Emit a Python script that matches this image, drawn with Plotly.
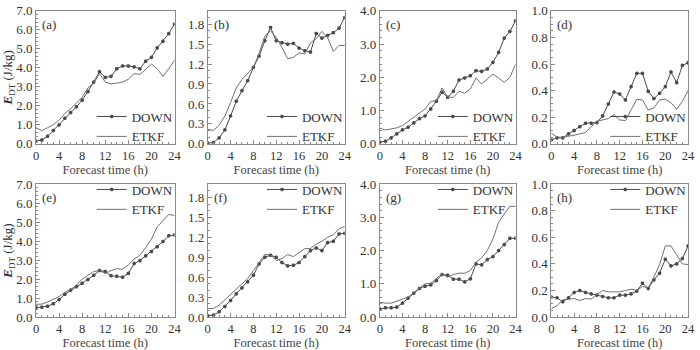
import plotly.graph_objects as go

hours = list(range(25))
panel_labels = ["(a)", "(b)", "(c)", "(d)", "(e)", "(f)", "(g)", "(h)"]
series_names = ["DOWN", "ETKF"]
x_ticks = [0, 4, 8, 12, 16, 20, 24]

down_a = [0.15, 0.2, 0.4, 0.7, 1.0, 1.35, 1.65, 1.95, 2.3, 2.75, 3.25, 3.8, 3.5, 3.55, 3.95, 4.1, 4.1, 4.05, 3.95, 4.35, 4.55, 5.05, 5.4, 5.8, 6.3]
etkf_a = [0.85, 0.7, 0.85, 1.0, 1.25, 1.6, 1.85, 2.15, 2.45, 2.95, 3.2, 3.7, 3.25, 3.15, 3.2, 3.25, 3.4, 3.7, 3.65, 3.9, 4.2, 3.95, 3.55, 3.95, 4.4]
down_b = [0.01, 0.02, 0.09, 0.21, 0.42, 0.64, 0.8, 0.95, 1.15, 1.32, 1.55, 1.75, 1.55, 1.52, 1.5, 1.51, 1.44, 1.4, 1.38, 1.66, 1.59, 1.63, 1.67, 1.74, 1.9]
etkf_b = [0.22, 0.2, 0.28, 0.42, 0.62, 0.84, 0.97, 1.06, 1.15, 1.36, 1.62, 1.7, 1.6, 1.45, 1.28, 1.3, 1.37, 1.35, 1.52, 1.58, 1.69, 1.6, 1.39, 1.48, 1.48]
down_c = [0.05, 0.08, 0.18, 0.3, 0.42, 0.5, 0.63, 0.76, 0.84, 1.05, 1.28, 1.55, 1.4, 1.58, 1.92, 1.98, 2.05, 2.2, 2.18, 2.25, 2.45, 2.75, 3.18, 3.38, 3.7]
etkf_c = [0.47, 0.42, 0.45, 0.48, 0.55, 0.68, 0.8, 0.92, 1.05, 1.28, 1.3, 1.68, 1.4, 1.4, 1.58, 1.52, 1.65, 1.98, 1.8, 1.95, 2.1, 1.98, 1.85, 2.0, 2.4]
down_d = [0.03, 0.045, 0.045, 0.075, 0.1, 0.13, 0.155, 0.155, 0.16, 0.21, 0.3, 0.39, 0.375, 0.33, 0.43, 0.53, 0.53, 0.395, 0.34, 0.38, 0.43, 0.54, 0.46, 0.59, 0.61]
etkf_d = [0.08, 0.05, 0.05, 0.055, 0.065, 0.075, 0.085, 0.13, 0.17, 0.18, 0.19, 0.22, 0.18, 0.175, 0.26, 0.335, 0.33, 0.255, 0.27, 0.33, 0.335, 0.31, 0.26, 0.32, 0.4]
down_e = [0.5, 0.52, 0.57, 0.7, 0.92, 1.2, 1.42, 1.6, 1.78, 1.98, 2.2, 2.45, 2.4, 2.18, 2.15, 2.1, 2.3, 2.82, 2.97, 3.22, 3.45, 3.7, 3.98, 4.28, 4.32]
etkf_e = [0.68, 0.68, 0.8, 0.95, 1.08, 1.3, 1.45, 1.68, 2.0, 2.2, 2.4, 2.45, 2.3, 2.45, 2.55, 2.52, 2.75, 3.05, 3.25, 3.65, 4.1, 4.75, 5.1, 5.4, 5.35]
down_f = [0.02, 0.03, 0.08, 0.16, 0.25, 0.35, 0.44, 0.53, 0.63, 0.8, 0.9, 0.93, 0.9, 0.82, 0.77, 0.78, 0.82, 0.91, 1.0, 1.04, 1.0, 1.12, 1.14, 1.25, 1.26]
etkf_f = [0.13, 0.13, 0.18, 0.26, 0.34, 0.42, 0.5, 0.58, 0.7, 0.83, 0.94, 0.94, 0.85, 0.88, 0.94, 0.91, 0.97, 1.03, 1.03, 1.1, 1.14, 1.2, 1.24, 1.33, 1.36]
down_g = [0.24, 0.28, 0.28, 0.3, 0.42, 0.57, 0.72, 0.86, 0.93, 0.97, 1.1, 1.28, 1.26, 1.14, 1.14, 1.06, 1.15, 1.6, 1.57, 1.73, 1.82, 2.0, 2.18, 2.37, 2.37]
etkf_g = [0.45, 0.42, 0.42, 0.48, 0.52, 0.6, 0.74, 0.87, 1.0, 1.02, 1.15, 1.3, 1.2, 1.28, 1.32, 1.32, 1.4, 1.65, 1.78, 2.0, 2.35, 2.85, 3.1, 3.33, 3.33]
down_h = [0.15, 0.145, 0.115, 0.145, 0.185, 0.2, 0.185, 0.175, 0.165, 0.155, 0.145, 0.145, 0.165, 0.165, 0.175, 0.195, 0.255, 0.215, 0.28, 0.33, 0.435, 0.385, 0.4, 0.44, 0.535]
etkf_h = [0.065, 0.085, 0.13, 0.135, 0.14, 0.125, 0.14, 0.135, 0.165, 0.2, 0.19, 0.19, 0.19, 0.2, 0.21, 0.2, 0.23, 0.22, 0.3, 0.395, 0.535, 0.535, 0.47, 0.4, 0.395]

downs = [down_a, down_b, down_c, down_d, down_e, down_f, down_g, down_h]
etkfs = [etkf_a, etkf_b, etkf_c, etkf_d, etkf_e, etkf_f, etkf_g, etkf_h]

# y-axis settings per column: (max, major step, minor step)
y_cfg = [(7.0, 1.0, 0.2), (2.0, 0.3, 0.1), (4.0, 1.0, 0.2), (1.0, 0.2, 0.05)]

W, H = 700, 350
col_px = [(33.5, 174.0), (207.7, 346.7), (382.3, 520.0), (556.3, 695.0)]
row_px = [(4.0, 143.0), (185.0, 324.0)]

FAM = '"Liberation Serif", "Times New Roman", "DejaVu Serif", serif'
def fnt(size, color="#333"):
    return dict(family=FAM, size=size, color=color)

frame = "#8a8a8a"
c_down = "#4a4a4a"
c_etkf = "#707070"

fig = go.Figure()
layout = dict(
    width=W, height=H, margin=dict(l=0, r=0, t=0, b=0),
    plot_bgcolor="white", paper_bgcolor="white",
    font=fnt(13),
    showlegend=True,
)
annotations = []

for i in range(8):
    r, c = divmod(i, 4)
    n = i + 1
    xs = "" if n == 1 else str(n)
    xa, ya = "x" + xs, "y" + xs
    lg = "legend" + xs
    x0, x1 = col_px[c]
    y0, y1 = row_px[r]
    ymax, ystep, yminor = y_cfg[c]

    fig.add_trace(go.Scatter(
        x=hours, y=downs[i], name=series_names[0], mode="lines+markers",
        line=dict(color=c_down, width=1),
        marker=dict(symbol="asterisk-open", size=3, color=c_down, line=dict(color=c_down, width=1.2)),
        xaxis=xa, yaxis=ya, legend=lg))
    fig.add_trace(go.Scatter(
        x=hours, y=etkfs[i], name=series_names[1], mode="lines",
        line=dict(color=c_etkf, width=1),
        xaxis=xa, yaxis=ya, legend=lg))

    layout["xaxis" + xs] = dict(
        domain=[x0 / W, x1 / W], anchor=ya, range=[0, 24],
        tickvals=x_ticks, ticks="inside", ticklen=4, tickcolor=frame,
        minor=dict(dtick=1, ticks="inside", ticklen=2, tickcolor=frame),
        showline=True, linecolor=frame, linewidth=1, mirror=True,
        showgrid=False, zeroline=False,
        tickfont=fnt(12.5), ticklabelstandoff=0,
        title=dict(text="Forecast time (h)", font=fnt(12.5, "#444"), standoff=0),
    )
    yax = dict(
        domain=[1 - y1 / H, 1 - y0 / H], anchor=xa, range=[0, ymax],
        dtick=ystep, tick0=0, tickformat=".1f",
        ticks="inside", ticklen=4, tickcolor=frame,
        minor=dict(dtick=yminor, tick0=0, ticks="inside", ticklen=2, tickcolor=frame),
        showline=True, linecolor=frame, linewidth=1, mirror=True,
        showgrid=False, zeroline=False,
        tickfont=fnt(13),
    )
    if c == 0:
        yax["title"] = dict(text="<i><b>E</b></i><sub>DT</sub> (J/kg)", font=fnt(13), standoff=4)
    layout["yaxis" + xs] = yax

    if r == 0:
        layout[lg] = dict(x=(x1 - 84) / W, xanchor="left", y=1 - (y1 + 8) / H, yanchor="bottom",
                          bgcolor="rgba(0,0,0,0)", font=fnt(13),
                          tracegroupgap=0, itemwidth=30)
    else:
        layout[lg] = dict(x=(x1 - 84) / W, xanchor="left", y=1 - (y0 - 10) / H, yanchor="top",
                          bgcolor="rgba(0,0,0,0)", font=fnt(13),
                          tracegroupgap=0, itemwidth=30)

    annotations.append(dict(
        text=panel_labels[i], xref=xa + " domain", yref=ya + " domain",
        x=0.03, y=0.97, xanchor="left", yanchor="top", showarrow=False,
        font=fnt(13)))

layout["annotations"] = annotations
fig.update_layout(**layout)
fig.write_html("out.html")
